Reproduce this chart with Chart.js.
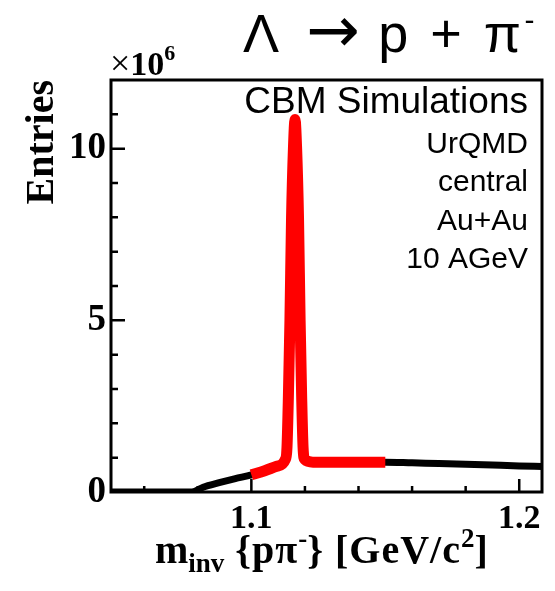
<!DOCTYPE html>
<html lang="en">
<head>
<meta charset="UTF-8">
<title>Lambda invariant mass</title>
<script src="https://cdn.jsdelivr.net/npm/chart.js"></script>
<style>
  html, body { margin: 0; padding: 0; background: #fff; }
  #wrap { width: 555px; height: 591px; position: relative; }
</style>
</head>
<body>
<div id="wrap"><canvas id="massChart"></canvas></div>
<script>
// invariant mass (GeV/c^2) and entries (in units of 10^6)
const massAll = [1.0476, 1.060, 1.070, 1.0778, 1.082, 1.088, 1.094, 1.100, 1.105, 1.1095,
  1.1127, 1.1133, 1.1138, 1.1144, 1.1150, 1.1157, 1.1163, 1.1169, 1.1176, 1.1182,
  1.1188, 1.1193, 1.1199, 1.123, 1.130, 1.140, 1.150, 1.160, 1.170, 1.180,
  1.190, 1.200, 1.2085];
const entriesAll = [0, 0, 0, 0, 0.14, 0.27, 0.39, 0.50, 0.62, 0.75,
  0.95, 1.3, 2.7, 5.0, 8.0, 10.0, 10.85, 10.0, 8.0, 5.0,
  2.7, 1.3, 0.95, 0.87, 0.87, 0.87, 0.87, 0.85, 0.83, 0.81,
  0.785, 0.76, 0.74];

// signal window drawn in red
const signalWindow = [1.100, 1.150];

const yTickLabels = [0, 5, 10];
const xTickLabels = [1.1, 1.2];

const infoLines = ['UrQMD', 'central', 'Au+Au', '10 AGeV'];

const allPts = massAll.map((m, i) => ({ x: m, y: entriesAll[i] }));
const signalPts = allPts.filter(p => p.x >= signalWindow[0] && p.x <= signalWindow[1]);

function drawRich(ctx, parts, x, y) {
  parts.forEach(p => {
    ctx.font = p.font;
    ctx.letterSpacing = p.ls || '0px';
    ctx.fillText(p.t, x, y + (p.dy || 0));
    x += ctx.measureText(p.t).width;
  });
  ctx.letterSpacing = '0px';
}

const decorations = {
  id: 'decorations',
  afterDatasetsDraw(chart) {
    const { ctx, chartArea: a, scales: { x, y } } = chart;
    ctx.save();
    ctx.strokeStyle = '#000';
    ctx.lineWidth = 2.5;
    ctx.beginPath();
    y.ticks.forEach(t => {
      if (t.value <= y.min || t.value >= y.max) return;
      const py = y.getPixelForValue(t.value);
      const len = yTickLabels.includes(t.value) ? 14 : 7;
      ctx.moveTo(a.left, py);
      ctx.lineTo(a.left + len, py);
    });
    x.ticks.forEach(t => {
      if (t.value <= x.min || t.value >= x.max) return;
      const px = x.getPixelForValue(t.value);
      const major = xTickLabels.some(v => Math.abs(v - t.value) < 1e-6);
      ctx.moveTo(px, a.bottom);
      ctx.lineTo(px, a.bottom - (major ? 13 : 6));
    });
    ctx.stroke();
    ctx.lineWidth = 3;
    ctx.strokeRect(a.left, a.top, a.right - a.left, a.bottom - a.top);
    ctx.restore();
  },
  afterDraw(chart) {
    const { ctx } = chart;
    ctx.save();
    ctx.fillStyle = '#000';
    ctx.textBaseline = 'alphabetic';
    ctx.textAlign = 'left';

    // decay title
    const sans = '54px "Liberation Sans", Arial, sans-serif';
    drawRich(ctx, [
      { t: 'Λ ', font: sans, ls: '6px' },
      { t: '→', font: '64px "DejaVu Sans", sans-serif' },
      { t: ' p + π', font: sans, ls: '3.5px' },
      { t: '-', font: '30px "Liberation Sans", Arial, sans-serif', dy: -22 }
    ], 243, 52);

    // simulation info
    ctx.textAlign = 'right';
    ctx.font = '37px "Liberation Sans", Arial, sans-serif';
    ctx.fillText('CBM Simulations', 528, 113);
    ctx.font = '30px "Liberation Sans", Arial, sans-serif';
    infoLines.forEach((s, i) => ctx.fillText(s, 528, 153 + i * 38.3));

    // axis multiplier
    ctx.textAlign = 'left';
    drawRich(ctx, [
      { t: '×', font: '36px "Liberation Serif", serif' },
      { t: '10', font: 'bold 34px "Liberation Serif", serif' },
      { t: '6', font: 'bold 22px "Liberation Serif", serif', dy: -15 }
    ], 110, 75);

    // x axis title
    const big = 'bold 40px "Liberation Serif", serif';
    const small = 'bold 27px "Liberation Serif", serif';
    drawRich(ctx, [
      { t: 'm', font: big },
      { t: 'inv', font: small, dy: 9 },
      { t: ' {pπ', font: big, ls: '1px' },
      { t: '-', font: small, dy: -16 },
      { t: '} [GeV/c', font: big, ls: '1px' },
      { t: '2', font: small, dy: -16 },
      { t: ']', font: big }
    ], 155, 563);
    ctx.restore();
  }
};

new Chart(document.getElementById('massChart'), {
  type: 'line',
  data: {
    datasets: [
      {
        label: 'signal',
        data: signalPts,
        borderColor: '#ff0000',
        borderWidth: 11,
        borderCapStyle: 'butt',
        borderJoinStyle: 'round',
        cubicInterpolationMode: 'monotone',
        pointRadius: 0,
        fill: false
      },
      {
        label: 'all',
        data: allPts,
        borderColor: '#000',
        borderWidth: 7,
        borderJoinStyle: 'round',
        cubicInterpolationMode: 'monotone',
        pointRadius: 0,
        fill: false
      }
    ]
  },
  options: {
    responsive: true,
    maintainAspectRatio: false,
    animation: false,
    devicePixelRatio: 1,
    layout: { padding: { top: 80, right: 13, bottom: 0, left: 0 } },
    plugins: {
      legend: { display: false },
      tooltip: { enabled: false }
    },
    scales: {
      x: {
        type: 'linear',
        min: 1.0476,
        max: 1.2085,
        grid: { display: false, drawTicks: false },
        border: { display: false },
        ticks: {
          stepSize: 0.02,
          includeBounds: false,
          autoSkip: false,
          maxRotation: 0,
          padding: 7,
          color: '#000',
          font: { family: '"Liberation Serif", serif', weight: 'bold', size: 34 },
          callback: v => xTickLabels.some(l => Math.abs(l - v) < 1e-6) ? v.toFixed(1) : ''
        },
        afterFit: s => { s.height = 99; }
      },
      y: {
        min: 0,
        max: 12,
        grid: { display: false, drawTicks: false },
        border: { display: false },
        ticks: {
          stepSize: 1,
          autoSkip: false,
          maxTicksLimit: 20,
          padding: 5,
          color: '#000',
          font: { family: '"Liberation Serif", serif', weight: 'bold', size: 37 },
          callback: v => yTickLabels.includes(v) ? v : ''
        },
        title: {
          display: true,
          text: 'Entries',
          align: 'end',
          color: '#000',
          font: { family: '"Liberation Serif", serif', weight: 'bold', size: 40 },
          padding: { top: 19, bottom: 0 }
        },
        afterFit: s => { s.width = 111; }
      }
    }
  },
  plugins: [decorations]
});
</script>
</body>
</html>
